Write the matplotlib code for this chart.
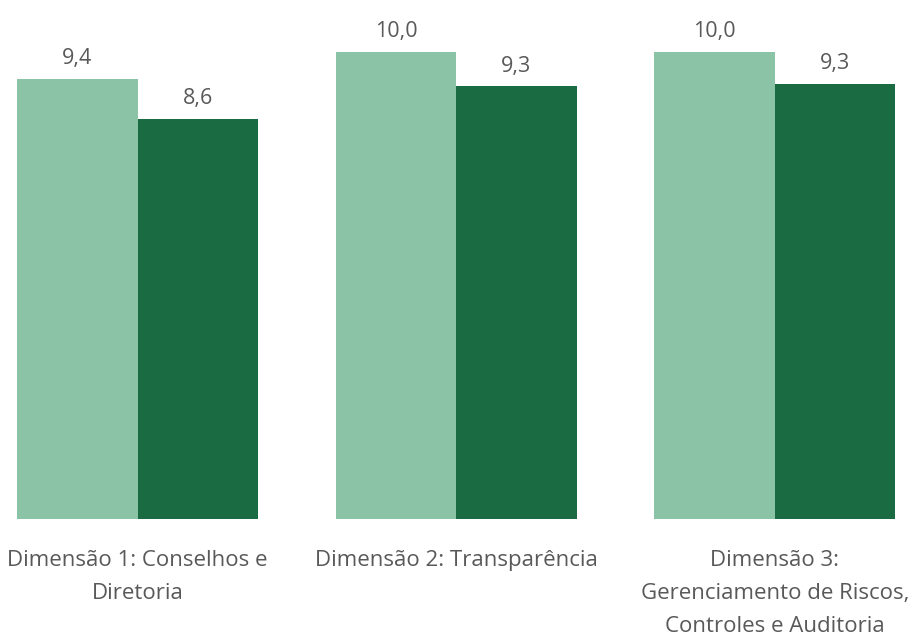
import matplotlib
matplotlib.use("Agg")
import matplotlib.pyplot as plt
import numpy as np

plt.rcParams['font.family'] = ['Open Sans', 'DejaVu Sans']

categories = ["Dimensão 1: Conselhos e\nDiretoria",
              "Dimensão 2: Transparência",
              "Dimensão 3:\nGerenciamento de Riscos,\nControles e Auditoria"]
serie_a = [9.42, 10.0, 10.0]
serie_b = [8.57, 9.26, 9.31]

light = "#8BC3A7"
dark = "#1A6B42"
txt = "#595959"

fig = plt.figure(figsize=(9.2, 6.36), dpi=100)
ax = fig.add_axes([0, 0.184, 1, 0.816])

x = np.arange(len(categories))
w = 0.378
ba = ax.bar(x - w / 2, serie_a, w, color=light)
bb = ax.bar(x + w / 2, serie_b, w, color=dark)

for bars in (ba, bb):
    for r in bars:
        h = r.get_height()
        ax.annotate("{:.1f}".format(h).replace(".", ","),
                    (r.get_x() + r.get_width() / 2, h),
                    xytext=(0, 7), textcoords="offset points",
                    ha="center", va="bottom", fontsize=15.5, color=txt)

ax.set_xlim(-0.4314, 2.455)
ax.set_ylim(0, 11.11)
ax.set_xticks(x)
ax.set_xticklabels(categories, fontsize=16, color=txt, linespacing=1.75)
ax.tick_params(axis="x", length=0, pad=22)
ax.set_yticks([])
for s in ax.spines.values():
    s.set_visible(False)

fig.savefig("out.png", dpi=100)
